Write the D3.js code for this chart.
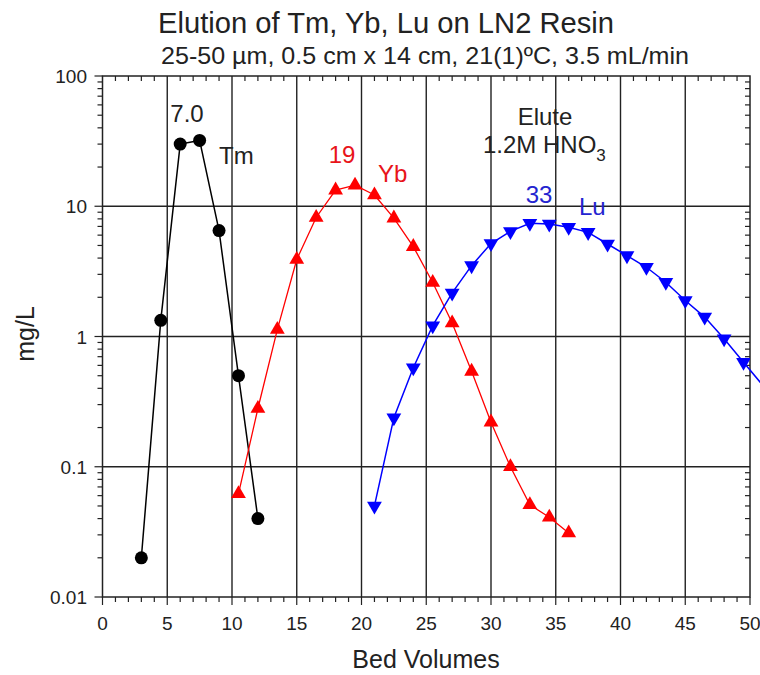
<!DOCTYPE html>
<html>
<head>
<meta charset="utf-8">
<script src="https://cdn.jsdelivr.net/npm/d3@7"></script>
<style>
  html, body { margin: 0; padding: 0; background: #fff; }
  svg { display: block; font-family: "Liberation Sans", Arial, sans-serif; }
</style>
</head>
<body>
<svg id="chart" width="760" height="675"></svg>
<script>
// ---------- data ----------
const tmBedVolumes = [3, 4.5, 6, 7.5, 9, 10.5, 12];
const tmValues     = [0.02, 1.33, 30, 32, 6.5, 0.5, 0.04];

const ybBedVolumes = [10.5, 12, 13.5, 15, 16.5, 18, 19.5, 21, 22.5, 24, 25.5, 27, 28.5, 30, 31.5, 33, 34.5, 36];
const ybValues     = [0.062, 0.28, 1.13, 3.9, 8.2, 13.3, 14.5, 12.2, 8.1, 4.9, 2.6, 1.27, 0.54, 0.22, 0.10, 0.051, 0.041, 0.031];

const luBedVolumes = [21, 22.5, 24, 25.5, 27, 28.5, 30, 31.5, 33, 34.5, 36, 37.5, 39, 40.5, 42, 43.5, 45, 46.5, 48, 49.5, 51];
const luValues     = [0.05, 0.238, 0.575, 1.21, 2.16, 3.5, 5.17, 6.41, 7.4, 7.3, 6.9, 6.3, 5.13, 4.18, 3.40, 2.61, 1.89, 1.41, 0.96, 0.635, 0.42];

const xTickValues = [0, 5, 10, 15, 20, 25, 30, 35, 40, 45, 50];
const yTickValues = [0.01, 0.1, 1, 10, 100];
const yTickLabels = ["0.01", "0.1", "1", "10", "100"];

const titleText = "Elution of Tm, Yb, Lu on LN2 Resin";
const subtitleText = "25-50 \u00B5m, 0.5 cm x 14 cm, 21(1)\u00BAC, 3.5 mL/min";
const xLabel = "Bed Volumes";
const yLabel = "mg/L";

(function () {
// ---------- layout ----------
const svg = d3.select("#chart");
const pL = 102.5, pR = 750, pT = 76, pB = 597;

const x = d3.scaleLinear().domain([0, 50]).range([pL, pR]);
const y = d3.scaleLog().domain([0.01, 100]).range([pB, pT]);

// minor ticks
const xMinor = d3.range(0, 51, 1).filter(v => v % 5 !== 0);
const yMinor = [];
[0.01, 0.1, 1, 10].forEach(d => { for (let k = 2; k <= 9; k++) yMinor.push(d * k); });

// grid lines
const grid = svg.append("g").attr("stroke", "#222").attr("stroke-width", 1.4);
grid.selectAll(".vg").data(xTickValues.slice(1, -1)).join("line")
  .attr("x1", d => x(d)).attr("x2", d => x(d)).attr("y1", pT).attr("y2", pB);
grid.selectAll(".hg").data(yTickValues.slice(1, -1)).join("line")
  .attr("x1", pL).attr("x2", pR).attr("y1", d => y(d)).attr("y2", d => y(d));

// ticks
const ticks = svg.append("g").attr("stroke", "#222").attr("stroke-width", 1.2);
ticks.selectAll(".bM").data(xTickValues).join("line")
  .attr("x1", d => x(d)).attr("x2", d => x(d)).attr("y1", pB).attr("y2", pB + 8);
ticks.selectAll(".bm").data(xMinor).join("line")
  .attr("x1", d => x(d)).attr("x2", d => x(d)).attr("y1", pB).attr("y2", pB + 5);
ticks.selectAll(".tm").data(xMinor).join("line")
  .attr("x1", d => x(d)).attr("x2", d => x(d)).attr("y1", pT).attr("y2", pT + 5);
ticks.selectAll(".lM").data(yTickValues).join("line")
  .attr("x1", pL - 8).attr("x2", pL).attr("y1", d => y(d)).attr("y2", d => y(d));
ticks.selectAll(".lm").data(yMinor).join("line")
  .attr("x1", pL - 5).attr("x2", pL).attr("y1", d => y(d)).attr("y2", d => y(d));
ticks.selectAll(".rm").data(yMinor).join("line")
  .attr("x1", pR - 5).attr("x2", pR).attr("y1", d => y(d)).attr("y2", d => y(d));

// frame
svg.append("rect").attr("x", pL).attr("y", pT).attr("width", pR - pL).attr("height", pB - pT)
  .attr("fill", "none").attr("stroke", "#222").attr("stroke-width", 1.5);

// tick labels
svg.append("g").selectAll("text").data(xTickValues).join("text")
  .attr("x", d => x(d)).attr("y", 630).attr("text-anchor", "middle")
  .attr("font-size", 19).attr("fill", "#222").text(d => d);
svg.append("g").selectAll("text").data(yTickValues).join("text")
  .attr("x", 87).attr("y", d => y(d) + 7).attr("text-anchor", "end")
  .attr("font-size", 19).attr("fill", "#222").text((d, i) => yTickLabels[i]);

// axis titles
svg.append("text").attr("x", 426).attr("y", 668).attr("text-anchor", "middle")
  .attr("font-size", 25).attr("fill", "#222").text(xLabel);
svg.append("text").attr("transform", "translate(34,334) rotate(-90)").attr("text-anchor", "middle")
  .attr("font-size", 25).attr("fill", "#222").text(yLabel);

// title
svg.append("text").attr("x", 386).attr("y", 33).attr("text-anchor", "middle")
  .attr("font-size", 29).attr("fill", "#222")
  .attr("textLength", 456).attr("lengthAdjust", "spacingAndGlyphs").text(titleText);
svg.append("text").attr("x", 425).attr("y", 64).attr("text-anchor", "middle")
  .attr("font-size", 24.5).attr("fill", "#222")
  .attr("textLength", 528).attr("lengthAdjust", "spacingAndGlyphs").text(subtitleText);

// clip for markers
svg.append("clipPath").attr("id", "plotClip").append("rect")
  .attr("x", pL).attr("y", pT).attr("width", pR - pL).attr("height", pB - pT);

const series = [
  { xs: tmBedVolumes, ys: tmValues, color: "#000000", shape: "circle", lw: 1.5 },
  { xs: ybBedVolumes, ys: ybValues, color: "#ff0000", shape: "up", lw: 1.3 },
  { xs: luBedVolumes, ys: luValues, color: "#0000ff", shape: "down", lw: 1.5 }
];

const line = d3.line().x(d => x(d[0])).y(d => y(d[1]));
series.forEach(s => {
  const pts = s.xs.map((v, i) => [v, s.ys[i]]);
  svg.append("path").datum(pts).attr("d", line)
    .attr("fill", "none").attr("stroke", s.color).attr("stroke-width", s.lw);
});
series.forEach(s => {
  const pts = s.xs.map((v, i) => [v, s.ys[i]]);
  const g = svg.append("g").attr("clip-path", "url(#plotClip)");
  if (s.shape === "circle") {
    g.selectAll("circle").data(pts).join("circle")
      .attr("cx", d => x(d[0])).attr("cy", d => y(d[1])).attr("r", 6.5).attr("fill", s.color);
  } else {
    const sym = d3.symbol().type(d3.symbolTriangle).size(95);
    g.selectAll("path").data(pts).join("path")
      .attr("d", sym)
      .attr("transform", d => `translate(${x(d[0])},${y(d[1])})` + (s.shape === "down" ? " rotate(180)" : ""))
      .attr("fill", s.color);
  }
});

// annotations
const ann = svg.append("g").attr("font-size", 24);
ann.append("text").attr("x", 187).attr("y", 122).attr("text-anchor", "middle").attr("fill", "#222").text("7.0");
ann.append("text").attr("x", 219).attr("y", 164).attr("fill", "#222").text("Tm");
ann.append("text").attr("x", 342).attr("y", 163).attr("text-anchor", "middle").attr("fill", "#e8141a").text("19");
ann.append("text").attr("x", 378).attr("y", 182).attr("fill", "#e8141a").text("Yb");
ann.append("text").attr("x", 539).attr("y", 203).attr("text-anchor", "middle").attr("fill", "#2424d0").text("33");
ann.append("text").attr("x", 579).attr("y", 215).attr("fill", "#2424d0").text("Lu");
ann.append("text").attr("x", 545).attr("y", 125).attr("text-anchor", "middle").attr("fill", "#222").text("Elute");
const hno = ann.append("text").attr("x", 483).attr("y", 153).attr("fill", "#222");
hno.append("tspan").text("1.2M HNO");
hno.append("tspan").attr("font-size", 17).attr("dy", 8).text("3");
})();
</script>
</body>
</html>
